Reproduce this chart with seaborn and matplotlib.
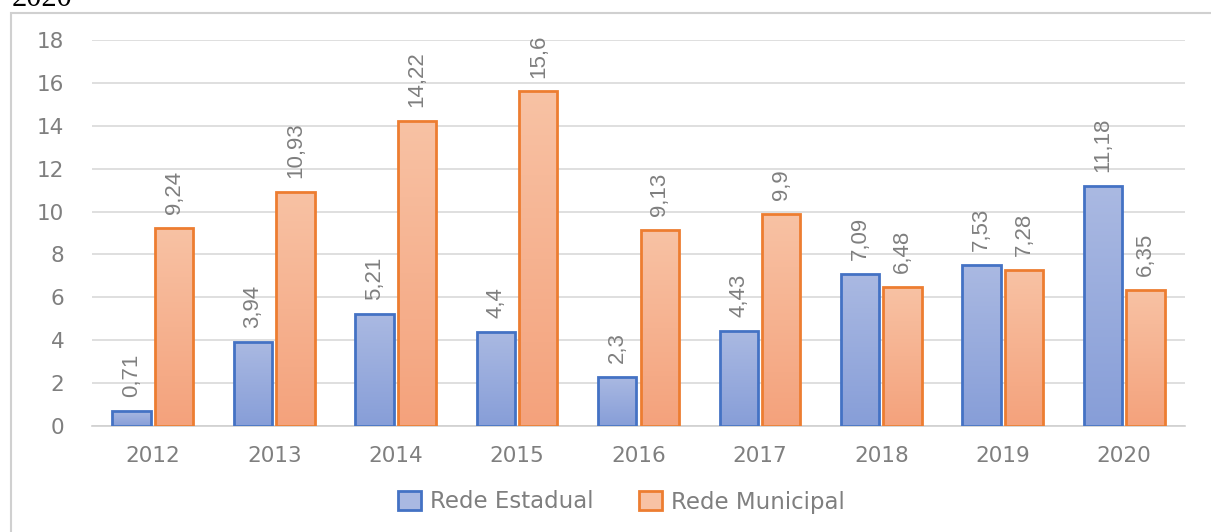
import numpy as np
import pandas as pd
import seaborn as sns
import matplotlib.pyplot as plt
from matplotlib.patches import Patch, Rectangle
from matplotlib.colors import LinearSegmentedColormap

# Valores
anos = ['2012', '2013', '2014', '2015', '2016', '2017', '2018', '2019', '2020']
rede_estadual = [0.71, 3.94, 5.21, 4.4, 2.3, 4.43, 7.09, 7.53, 11.18]
rede_municipal = [9.24, 10.93, 14.22, 15.6, 9.13, 9.9, 6.48, 7.28, 6.35]
series = ['Rede Estadual', 'Rede Municipal']

df = pd.DataFrame({
    'Ano': anos * 2,
    'Valor': rede_estadual + rede_municipal,
    'Rede': [series[0]] * len(anos) + [series[1]] * len(anos),
})

edge_colors = {'Rede Estadual': '#4472c4', 'Rede Municipal': '#ed7d31'}
grad_colors = {'Rede Estadual': ('#aab9e2', '#879ed8'),
               'Rede Municipal': ('#f8c2a4', '#f4a27c')}
grey = '#7f7f7f'

sns.set_style('white')
plt.rcParams['font.family'] = ['DejaVu Sans']

fig = plt.figure(figsize=(12.11, 5.32), dpi=100)
ax = fig.add_axes([0.076, 0.199, 0.9025, 0.726])

# moldura do gráfico e resto do título acima (cortado como no original)
fig.patches.append(Rectangle((11 / 1211, -0.05), 1.1, 1 - 13 / 532 + 0.05,
                             transform=fig.transFigure, fill=False,
                             edgecolor='#d0d0d0', linewidth=1.5))
fig.text(12 / 1211, 1 - 6.5 / 532, '2020', family='Liberation Serif',
         fontsize=22, color='black', va='baseline', ha='left')

sns.barplot(data=df, x='Ano', y='Valor', hue='Rede', order=anos,
            hue_order=series, width=0.7, gap=0.1, ax=ax, legend=False,
            palette=[edge_colors[s] for s in series])

ax.set_yticks(range(0, 19, 2))
ax.yaxis.grid(True, color='#d9d9d9', linewidth=1.2)
ax.set_axisbelow(True)
for side in ['top', 'right', 'left']:
    ax.spines[side].set_visible(False)
ax.spines['bottom'].set_color('#d0d0d0')
ax.spines['bottom'].set_linewidth(1.2)
ax.tick_params(axis='both', length=0, labelsize=15.5, labelcolor=grey)
ax.tick_params(axis='y', pad=20)
ax.tick_params(axis='x', pad=14)
ax.set_xlabel('')
ax.set_ylabel('')

# preenchimento em degradê
for container, s in zip(ax.containers, series):
    cmap = LinearSegmentedColormap.from_list(s, [grad_colors[s][1], grad_colors[s][0]])
    for bar in container:
        x0, y0 = bar.get_x(), bar.get_y()
        w, h = bar.get_width(), bar.get_height()
        bar.set_facecolor('none')
        bar.set_edgecolor(edge_colors[s])
        bar.set_linewidth(2)
        bar.set_zorder(3)
        img = ax.imshow(np.linspace(0, 1, 100).reshape(-1, 1), cmap=cmap,
                        origin='lower', extent=[x0, x0 + w, y0, y0 + h],
                        aspect='auto', zorder=2)
        img.set_clip_path(bar)
    labels = [str(v).replace('.', ',') for v in container.datavalues]
    ax.bar_label(container, labels=labels, rotation=90, padding=10,
                 fontsize=16, color=grey, family='Liberation Sans')

ax.set_xlim(-0.5, 8.5)
ax.set_ylim(0, 18)

handles = [Patch(facecolor=grad_colors[s][0], edgecolor=edge_colors[s],
                 linewidth=2, label=s) for s in series]
leg = fig.legend(handles=handles, loc='center', bbox_to_anchor=(0.513, 1 - 502 / 532),
                 ncol=2, frameon=False, fontsize=16.5, handlelength=1.0,
                 handleheight=0.9, handletextpad=0.4, columnspacing=2.0)
for t in leg.get_texts():
    t.set_color(grey)

fig.savefig('out.png', dpi=100)
